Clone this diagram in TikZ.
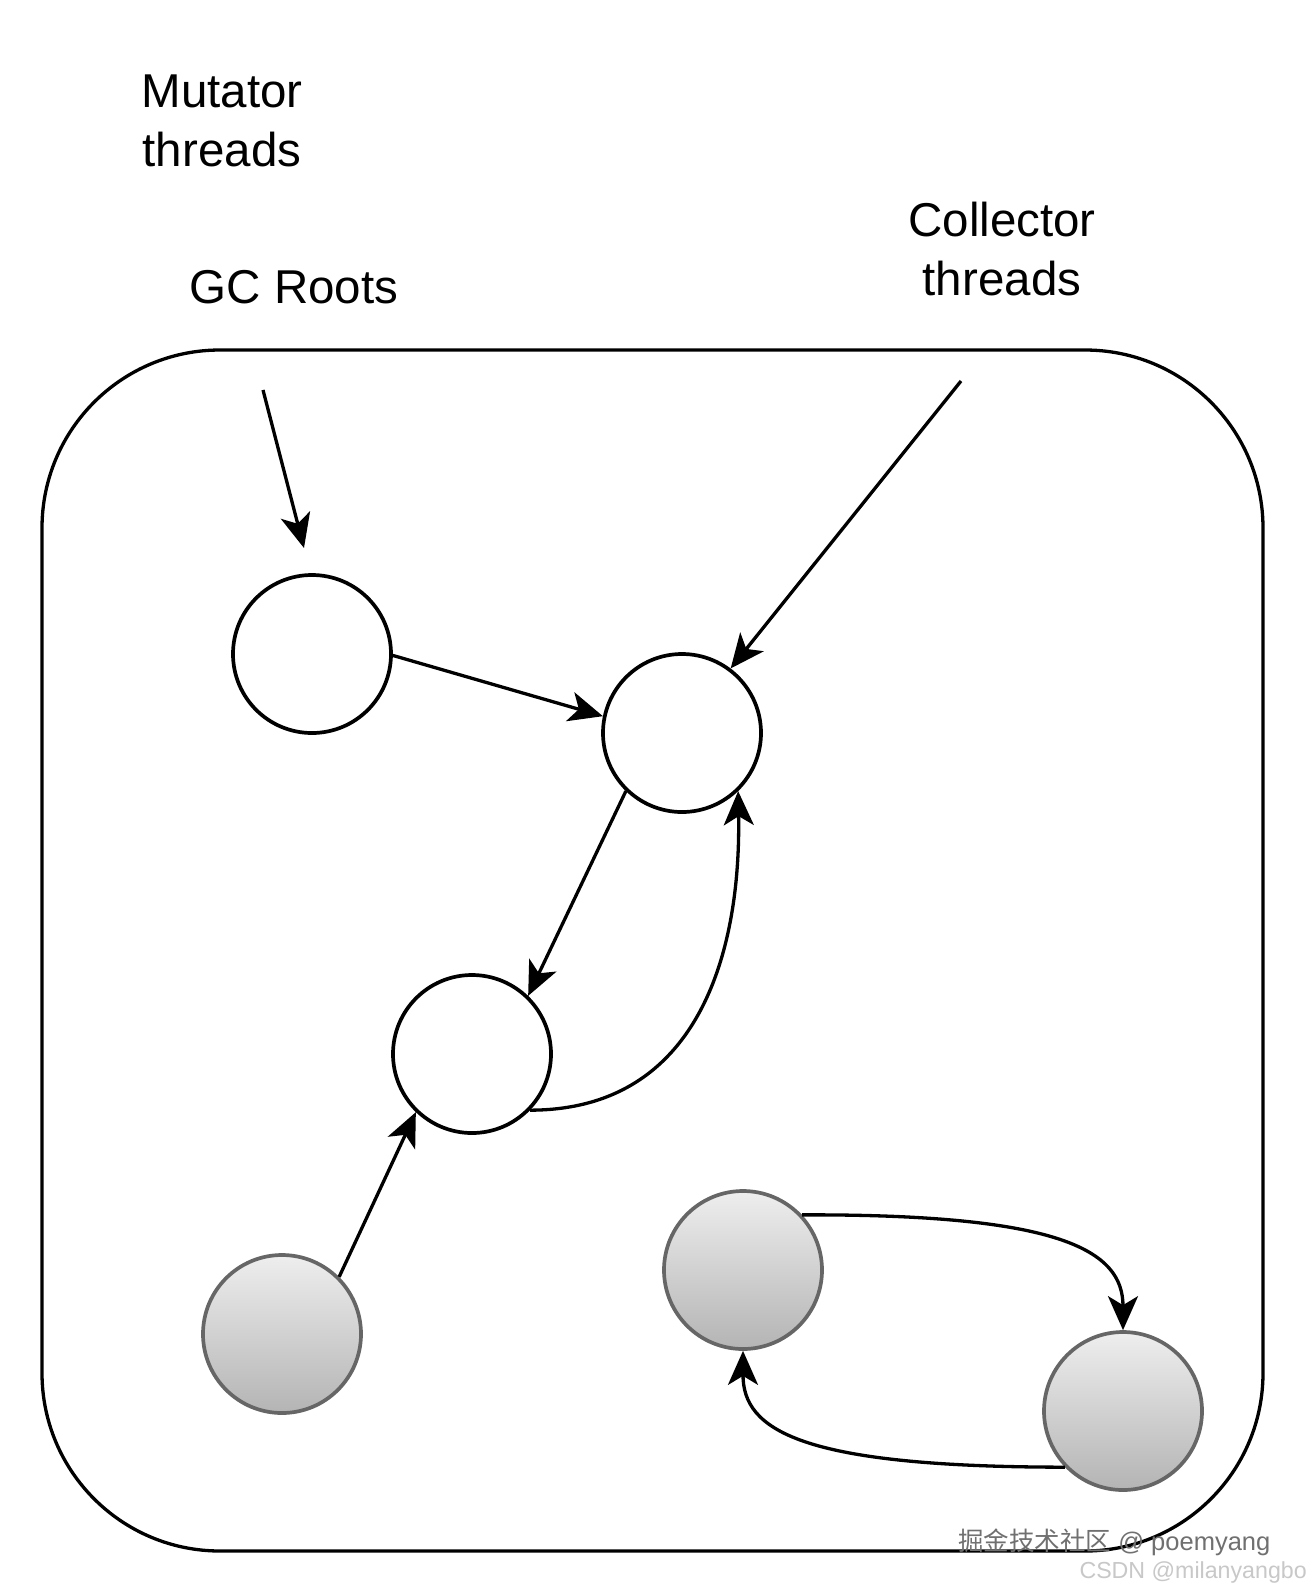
\documentclass[tikz,border=0pt]{standalone}
\usepackage{fontspec}
\setmainfont{Liberation Sans}
\newfontfamily\cjk{Noto Sans CJK SC}
\usetikzlibrary{arrows.meta}
\definecolor{rimgray}{HTML}{666666}
\definecolor{topgray}{HTML}{EEEEEE}
\definecolor{botgray}{HTML}{B4B4B4}
\definecolor{wmdark}{HTML}{707070}
\definecolor{wmlight}{HTML}{C8C8C8}
\tikzset{
  obj/.style={circle, draw=black, line width=3.7pt, minimum size=158pt, inner sep=0pt, fill=white},
  deadobj/.style={circle, draw=rimgray, line width=3.7pt, minimum size=158pt, inner sep=0pt, top color=topgray, bottom color=botgray},
  conn/.style={line width=3.3pt, -{Stealth[length=34pt, width=30pt, inset=9pt]}},
  lbl/.style={font=\fontsize{47.5}{59}\selectfont, align=center, inner sep=0pt}
}
\begin{document}
\begin{tikzpicture}[x=1pt,y=-1pt]
\useasboundingbox (0,0) rectangle (1308,1596);
\fill[white] (0,0) rectangle (1308,1596);
% container
\draw[line width=3.3pt, rounded corners=178pt] (42,350) rectangle (1263,1551);
% labels
\node[lbl] (mut) at (222,121) {Mutator\\threads};
\node[lbl] (gcr) at (294,287) {GC Roots};
\node[lbl] (col) at (1002,249) {Collector\\threads};
% objects
\node[obj] (A) at (312,654) {};
\node[obj] (B) at (682,733) {};
\node[obj] (C) at (472,1054) {};
\node[deadobj] (D) at (282,1334) {};
\node[deadobj] (E) at (743,1270) {};
\node[deadobj] (F) at (1123,1411) {};
% free ends
\coordinate (gcs) at (263,390);
\coordinate (gce) at (304,548);
\coordinate (cts) at (961,381);
% connectors
\draw[conn] (gcs) -- (gce);
\draw[conn] (cts) -- (B.53);
\draw[conn] (A.-1) -- (B.168);
\draw[conn] (B.-134) -- (C.46);
\draw[conn] (C.-44) .. controls (700,1110) and (741,950) .. (B.-46);
\draw[conn] (D.45) -- (C.-134);
\draw[conn] (E.43) .. controls (1060,1214) and (1123,1250) .. (F.north);
\draw[conn] (F.-136) .. controls (800,1467) and (743,1430) .. (E.south);
% watermark
\node[anchor=base west, inner sep=0pt, text=wmdark, font=\fontsize{25.5}{30}\selectfont] (wm1) at (958,1550) {{\cjk 掘金技术社区} @ poemyang};
\node[anchor=base east, inner sep=0pt, text=wmlight, font=\fontsize{23.2}{28}\selectfont] (wm2) at (1307,1578) {CSDN @milanyangbo};
\end{tikzpicture}
\end{document}
